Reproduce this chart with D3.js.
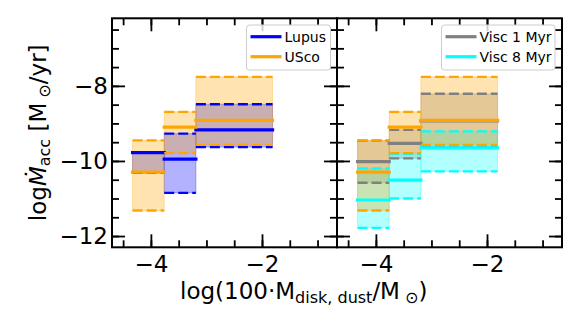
<!DOCTYPE html>
<html>
<head>
<meta charset="utf-8">
<script src="https://cdn.jsdelivr.net/npm/d3@7"></script>
<style>
body { margin: 0; background: #fff; }
text { font-family: "DejaVu Sans", sans-serif; fill: #000; }
</style>
</head>
<body>
<div id="svgContainer"></div>
<script>
// bins in log(100 Mdust)
var binEdges = [-4.33, -3.76, -3.19, -1.81];

// median and quartile band of log Macc per bin
var lupusMed = [-9.78, -9.95, -9.17];
var lupusLo = [-10.31, -10.85, -9.63];
var lupusHi = [-9.78, -9.27, -8.49];

var uscoMed = [-10.30, -9.10, -8.92];
var uscoLo = [-11.32, -9.79, -9.57];
var uscoHi = [-9.45, -8.69, -7.76];

var visc1Med = [-10.02, -9.53, -8.93];
var visc1Lo = [-10.58, -9.93, -9.62];
var visc1Hi = [-9.46, -9.17, -8.21];

var visc8Med = [-11.04, -10.51, -9.65];
var visc8Lo = [-11.78, -11.00, -10.28];
var visc8Hi = [-10.20, -9.81, -9.21];

var xTicks = [-4, -2];
var yTicks = [-12, -10, -8];
var xMinor = d3.range(-4.5, -0.9, 0.5);
var yMinor = d3.range(-12, -6.4, 0.5);

var width = 581,
    height = 332;

var margin = {top: 18.3, bottom: 247.3},
    panelLeft = [112, 337],
    panelW = 225,
    bigFont = 23;

var y = d3.scaleLinear().domain([-12.3, -6.2]).range([margin.bottom, margin.top]);

var svg = d3.select("#svgContainer").append("svg")
    .attr("width", width)
    .attr("height", height)
    .style("display", "block");

svg.append("rect").attr("width", width).attr("height", height).attr("fill", "#fff");

fmt = v => (v < 0 ? "\u2212" : "") + Math.abs(v);

drawPanel = (x0, series, legend, showY) => {
    var x = d3.scaleLinear().domain([-4.7, -0.65]).range([x0, x0 + panelW]);
    var g = svg.append("g");
    var bins = d3.range(binEdges.length - 1);

    // bands first (matplotlib puts collections under lines)
    series.forEach(s => {
        g.append("g").selectAll("rect")
            .data(bins)
            .enter().append("rect")
            .attr("x", i => x(binEdges[i]))
            .attr("width", i => x(binEdges[i + 1]) - x(binEdges[i]))
            .attr("y", i => y(s.hi[i]))
            .attr("height", i => y(s.lo[i]) - y(s.hi[i]))
            .attr("fill", s.color)
            .attr("fill-opacity", 0.3)
            .attr("stroke", s.color)
            .attr("stroke-opacity", 0.3)
            .attr("stroke-width", 1);
    });

    series.forEach(s => {
        [s.hi, s.lo].forEach(arr => {
            g.append("g").selectAll("line")
                .data(bins)
                .enter().append("line")
                .attr("x1", i => x(binEdges[i]))
                .attr("x2", i => x(binEdges[i + 1]))
                .attr("y1", i => y(arr[i]))
                .attr("y2", i => y(arr[i]))
                .attr("stroke", s.color)
                .attr("stroke-width", 2.3)
                .attr("stroke-dasharray", "10,4");
        });
        g.append("g").selectAll("line")
            .data(bins)
            .enter().append("line")
            .attr("x1", i => x(binEdges[i]))
            .attr("x2", i => x(binEdges[i + 1]))
            .attr("y1", i => y(s.med[i]))
            .attr("y2", i => y(s.med[i]))
            .attr("stroke", s.color)
            .attr("stroke-width", 3.2)
            .attr("stroke-linecap", "square");
    });

    // ticks on all four sides, pointing in
    var axes = [
        [d3.axisBottom(x), "translate(0," + margin.bottom + ")", xTicks, xMinor, true, 8],
        [d3.axisTop(x), "translate(0," + margin.top + ")", xTicks, xMinor, false, 4],
        [d3.axisLeft(y), "translate(" + x0 + ",0)", yTicks, yMinor, showY, 4],
        [d3.axisRight(y), "translate(" + (x0 + panelW) + ",0)", yTicks, yMinor, false, 4]
    ];
    axes.forEach(a => {
        var minor = g.append("g").attr("transform", a[1])
            .call(a[0].tickValues(a[3]).tickSizeInner(-7).tickSizeOuter(0).tickFormat(""));
        minor.select(".domain").remove();
        var major = g.append("g").attr("transform", a[1])
            .call(a[0].tickValues(a[2]).tickSizeInner(-13).tickSizeOuter(0)
                .tickPadding(a[5])
                .tickFormat(a[4] ? fmt : ""));
        major.select(".domain").remove();
        major.selectAll("text").attr("font-size", bigFont).attr("font-family", "DejaVu Sans");
        g.selectAll(".tick line").attr("stroke", "#000").attr("stroke-width", 1.8);
    });

    g.append("rect")
        .attr("x", x0).attr("y", margin.top)
        .attr("width", panelW).attr("height", margin.bottom - margin.top)
        .attr("fill", "none").attr("stroke", "#000").attr("stroke-width", 2);

    // legend
    var lg = g.append("g").attr("transform", "translate(" + legend.x + "," + margin.top + ")");
    lg.append("rect")
        .attr("x", 0).attr("y", 6.7)
        .attr("width", legend.w).attr("height", 45)
        .attr("rx", 3)
        .attr("fill", "#fff").attr("fill-opacity", 0.8)
        .attr("stroke", "#cccccc").attr("stroke-width", 1);
    var items = lg.selectAll("g.item")
        .data(legend.items)
        .enter().append("g")
        .attr("transform", (d, i) => "translate(0," + (18.4 + i * 20) + ")");
    items.append("line")
        .attr("x1", 4).attr("x2", 35)
        .attr("stroke", d => d.color)
        .attr("stroke-width", 3.2);
    items.append("text")
        .attr("x", 38)
        .attr("y", 5)
        .attr("font-size", 14)
        .text(d => d.label);
};

drawPanel(panelLeft[0], [
    {color: "blue", med: lupusMed, lo: lupusLo, hi: lupusHi},
    {color: "orange", med: uscoMed, lo: uscoLo, hi: uscoHi}
], {x: 246.5, w: 84, items: [{label: "Lupus", color: "blue"}, {label: "USco", color: "orange"}]}, true);

drawPanel(panelLeft[1], [
    {color: "gray", med: visc1Med, lo: visc1Lo, hi: visc1Hi},
    {color: "cyan", med: visc8Med, lo: visc8Lo, hi: visc8Hi},
    {color: "orange", med: uscoMed, lo: uscoLo, hi: uscoHi}
], {x: 441.5, w: 113.5, items: [{label: "Visc 1 Myr", color: "gray"}, {label: "Visc 8 Myr", color: "cyan"}]}, false);

// axis labels
var ylab = svg.append("text")
    .attr("transform", "translate(46," + ((margin.top + margin.bottom) / 2) + ") rotate(-90)")
    .attr("text-anchor", "middle")
    .attr("font-size", bigFont);
ylab.append("tspan").text("log");
ylab.append("tspan").attr("font-style", "italic").text("\u1E40");
ylab.append("tspan").attr("font-size", 16).attr("dy", 4).text("acc");
ylab.append("tspan").attr("dy", -4).text(" [M");
ylab.append("tspan").attr("font-size", 16).attr("dy", 4).text(" \u2299");
ylab.append("tspan").attr("dy", -4).text("/yr]");

var xlab = svg.append("text")
    .attr("x", 180)
    .attr("y", 298.5)
    .attr("font-size", bigFont);
xlab.append("tspan").text("log(100\u00B7M");
xlab.append("tspan").attr("font-size", 16).attr("dy", 4).text("disk, dust");
xlab.append("tspan").attr("dy", -4).text("/M");
xlab.append("tspan").attr("font-size", 16).attr("dy", 4).text(" \u2299");
xlab.append("tspan").attr("dy", -4).text(")");
</script>
</body>
</html>
